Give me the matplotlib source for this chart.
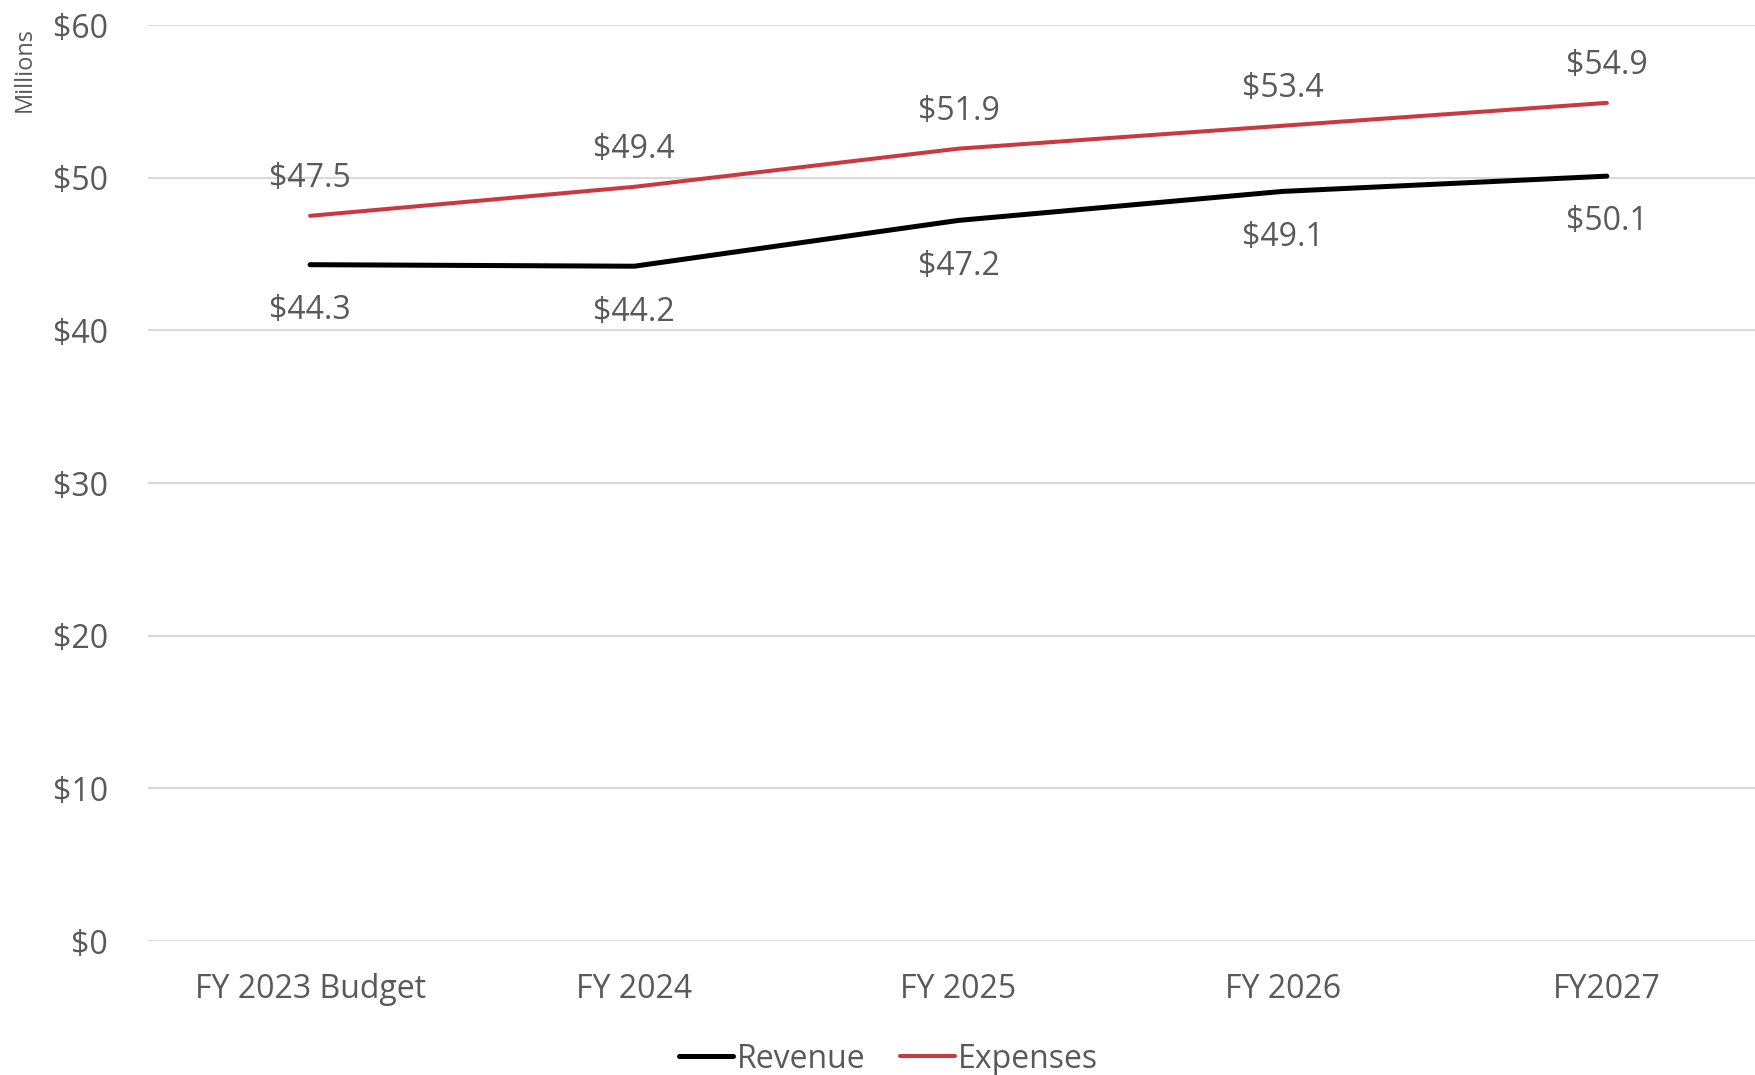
import matplotlib.pyplot as plt

plt.rcParams['font.family'] = ['Open Sans', 'DejaVu Sans']

years = ["FY 2023 Budget", "FY 2024", "FY 2025", "FY 2026", "FY2027"]
revenue = [44.3, 44.2, 47.2, 49.1, 50.1]
expenses = [47.5, 49.4, 51.9, 53.4, 54.9]
y_ticks = [0, 10, 20, 30, 40, 50, 60]

TEXT = '#595959'
GRID = '#d9d9d9'
FS = 23

fig = plt.figure(figsize=(17.56, 10.75), dpi=100)
ax = fig.add_axes([148 / 1756, 1 - 941 / 1075, 1 - 148 / 1756, (941 - 25) / 1075])

x = list(range(len(years)))
# name, values, colour, width, label offset (points)
series = [
    ("Revenue", revenue, 'black', 3.6, -33),
    ("Expenses", expenses, '#c9393f', 2.9, 27),
]
for name, vals, color, lw, off in series:
    ax.plot(x, vals, color=color, linewidth=lw, label=name,
            solid_capstyle='round', solid_joinstyle='round', zorder=3)
    for xi, v in zip(x, vals):
        ax.annotate(f"${v:.1f}", (xi, v), xytext=(0, off), textcoords='offset points',
                    ha='center', va='center', fontsize=FS, color=TEXT)

ax.set_xlim(-0.5, 4.46)
ax.set_ylim(0, 60)
ax.set_yticks(y_ticks)
ax.set_yticklabels([f"${t}" for t in y_ticks])
ax.set_xticks(x)
ax.set_xticklabels(years)
ax.grid(axis='y', color=GRID, linewidth=1.5)
ax.set_axisbelow(True)
for s in ax.spines.values():
    s.set_visible(False)
ax.tick_params(axis='both', length=0, labelsize=FS, labelcolor=TEXT)
ax.tick_params(axis='y', pad=29)
ax.tick_params(axis='x', pad=23)

fig.text(0.0142, 0.935, "Millions", rotation=90, ha='center', va='center',
         fontsize=17, color=TEXT)

fig.legend(loc='center', bbox_to_anchor=(0.506, 1 - 1059 / 1075),
           ncol=2, frameon=False, fontsize=FS, labelcolor=TEXT,
           handlelength=1.7, handletextpad=0.1, columnspacing=1.1)

fig.savefig("out.png", dpi=100, facecolor='white')
